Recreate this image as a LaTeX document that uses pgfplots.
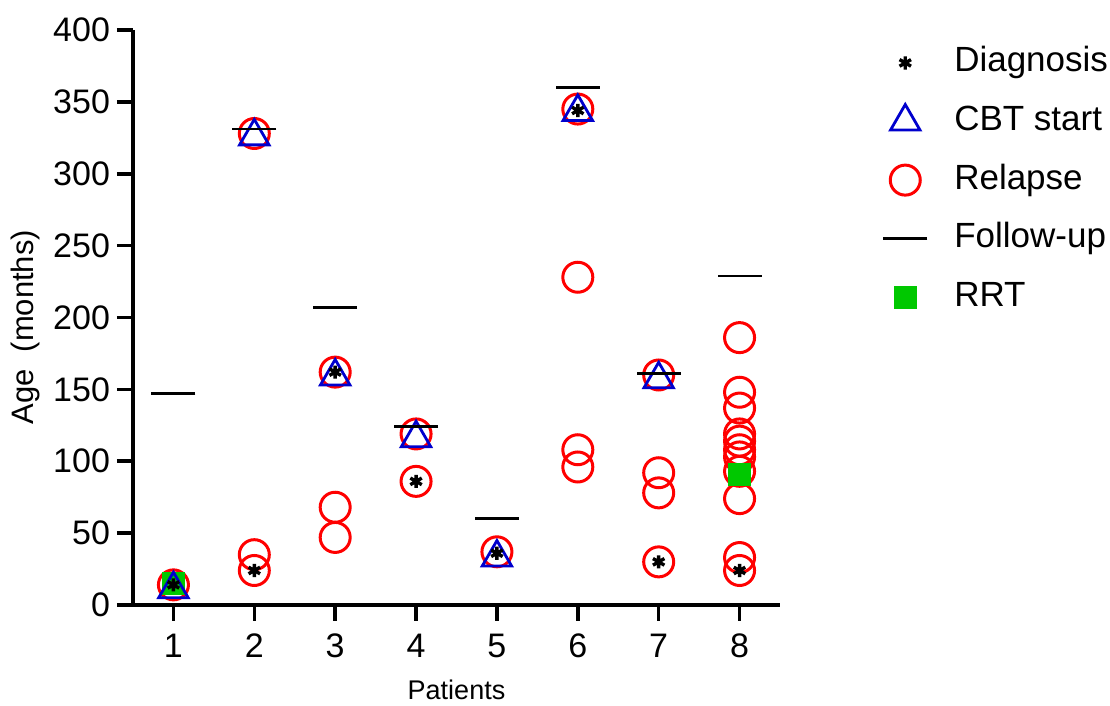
\documentclass[border=0pt]{standalone}
\usepackage{fontspec}
\setmainfont{Liberation Sans}
\usepackage{pgfplots}
\pgfplotsset{compat=1.18}
\definecolor{cred}{RGB}{255,0,0}
\definecolor{cblue}{RGB}{0,0,205}
\definecolor{cgreen}{RGB}{0,200,0}
\begin{document}
\begin{tikzpicture}
\begin{axis}[
  at={(0,0)}, anchor=south west,
  scale only axis, width=323.5pt, height=287.5pt,
  xmin=0.5, xmax=8.5, ymin=0, ymax=400,
  axis x line*=bottom, axis y line*=left,
  axis line style={line width=2pt},
  xtick={1,2,3,4,5,6,7,8}, ytick={0,50,...,400},
  minor tick num=0,
  tick style={line width=1.8pt, black},
  major tick length=8pt,
  tick align=outside,
  tick label style={font=\fontsize{17}{19}\selectfont},
  xticklabel style={yshift=-3pt},
  /pgf/number format/assume math mode=true,
  xlabel={Patients}, ylabel={Age\ \ (months)},
  xlabel style={font=\fontsize{13.5}{15}\selectfont, yshift=-4pt},
  ylabel style={font=\fontsize{15.5}{17}\selectfont, at={(ticklabel cs:0.483)}},
  clip=false,
  legend cell align=left,
  legend style={at={(1.159,0.973)}, anchor=north west, draw=none, fill=none,
    inner sep=0pt, row sep=12.3pt, font=\fontsize{17.5}{20}\selectfont,
    nodes={inner xsep=13.5pt, inner ysep=0pt, text height=13pt, text depth=4pt}},
]
\addlegendimage{only marks, mark=asterisk, mark size=3.3pt, black, line width=1.7pt}
\addlegendentry{Diagnosis}
\addlegendimage{only marks, mark=triangle, mark size=8.5pt, cblue, line width=1.4pt}
\addlegendentry{CBT start}
\addlegendimage{only marks, mark=o, mark size=7.5pt, cred, line width=1.5pt}
\addlegendentry{Relapse}
\addlegendimage{only marks, mark=-, mark size=11pt, black, line width=1.3pt}
\addlegendentry{Follow-up}
\addlegendimage{only marks, mark=square*, mark size=5.5pt, cgreen, draw=cgreen}
\addlegendentry{RRT}

% Relapse
\addplot[forget plot, only marks, mark=o, mark size=7.5pt, cred, line width=1.5pt] coordinates {
 (1,14)
 (2,328) (2,35) (2,24)
 (3,162) (3,68) (3,47)
 (4,119) (4,86)
 (5,37)
 (6,345) (6,228) (6,108) (6,96)
 (7,160) (7,92) (7,78) (7,30)
 (8,186) (8,148) (8,137) (8,119) (8,114) (8,108) (8,103) (8,93) (8,74) (8,33) (8,24)
};
% RRT
\addplot[forget plot, only marks, mark=square*, mark size=5.5pt, cgreen, draw=cgreen] coordinates {
 (1,15) (8,91)
};
% CBT start
\addplot[forget plot, only marks, mark=triangle, mark size=8.5pt, cblue, line width=1.4pt] coordinates {
 (1,11) (2,326) (3,159) (4,116) (5,33) (6,343) (7,157)
};
% Follow-up
\addplot[forget plot, only marks, mark=-, mark size=11pt, black, line width=1.3pt] coordinates {
 (1,147) (2,331) (3,207) (4,124) (5,60) (6,360) (7,161) (8,229)
};
% Diagnosis
\addplot[forget plot, only marks, mark=asterisk, mark size=3.3pt, black, line width=1.7pt] coordinates {
 (1,14) (2,24) (3,162) (4,86) (5,36) (6,344) (7,30) (8,24)
};
\end{axis}
\pgfresetboundingbox
\path (-66.5pt,-50.5pt) rectangle (488.5pt,302.5pt);
\end{tikzpicture}
\end{document}
